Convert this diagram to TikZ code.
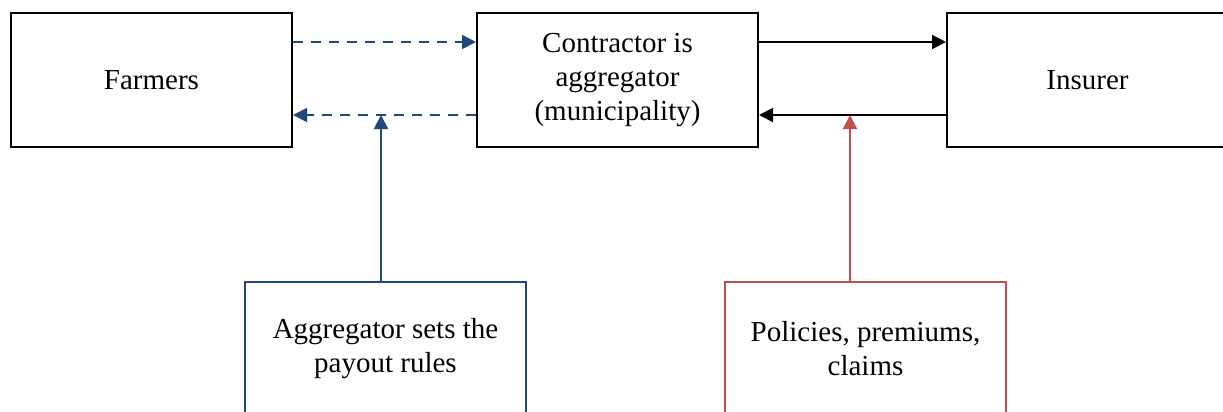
\documentclass[tikz,border=0pt]{standalone}
\usepackage{fontspec}
\setmainfont{Liberation Serif}
\usepackage{xcolor}
\usetikzlibrary{arrows.meta}
\definecolor{flowblue}{RGB}{31,73,125}
\definecolor{flowred}{RGB}{192,80,77}
\tikzset{
  party/.style={draw, rectangle, line width=1pt, minimum width=140.5pt, minimum height=67pt,
    inner sep=0pt, align=center, font=\fontsize{14.5}{17}\selectfont},
  flow/.style={line width=1pt, -{Triangle[length=7pt,width=7pt]}}
}

\begin{document}
\begin{tikzpicture}[x=0.5pt, y=-0.5pt]
\useasboundingbox (0,0) rectangle (1223,412);
% Parties
\node[party] (farmers) at (151.5,80) {Farmers};
\node[party] (contractor) at (617.5,80) {Contractor is\\aggregator\\(municipality)};
\node[party] (insurer) at (1087.5,80) {Insurer};

% Notes
\node[party, draw=flowblue] (rules) at (385.5,349) {Aggregator sets the\\payout rules};
\node[party, draw=flowred] (policies) at (865.5,349) {Policies, premiums,\\claims};

% Farmers and aggregator
\draw[flow, flowblue, dash pattern=on 5pt off 4pt] (farmers.east |- 0,42) -- (contractor.west |- 0,42);
\draw[flow, flowblue, dash pattern=on 5pt off 4pt] (contractor.west |- 0,115) -- (farmers.east |- 0,115);
\coordinate (rulesjoin) at (381,115);
\draw[flow, flowblue] (rules.north -| rulesjoin) -- (rulesjoin);

% Aggregator and insurer
\draw[flow] (contractor.east |- 0,42) -- (insurer.west |- 0,42);
\draw[flow] (insurer.west |- 0,115) -- (contractor.east |- 0,115);
\coordinate (policiesjoin) at (850,115);
\draw[flow, flowred] (policies.north -| policiesjoin) -- (policiesjoin);
\end{tikzpicture}
\end{document}
